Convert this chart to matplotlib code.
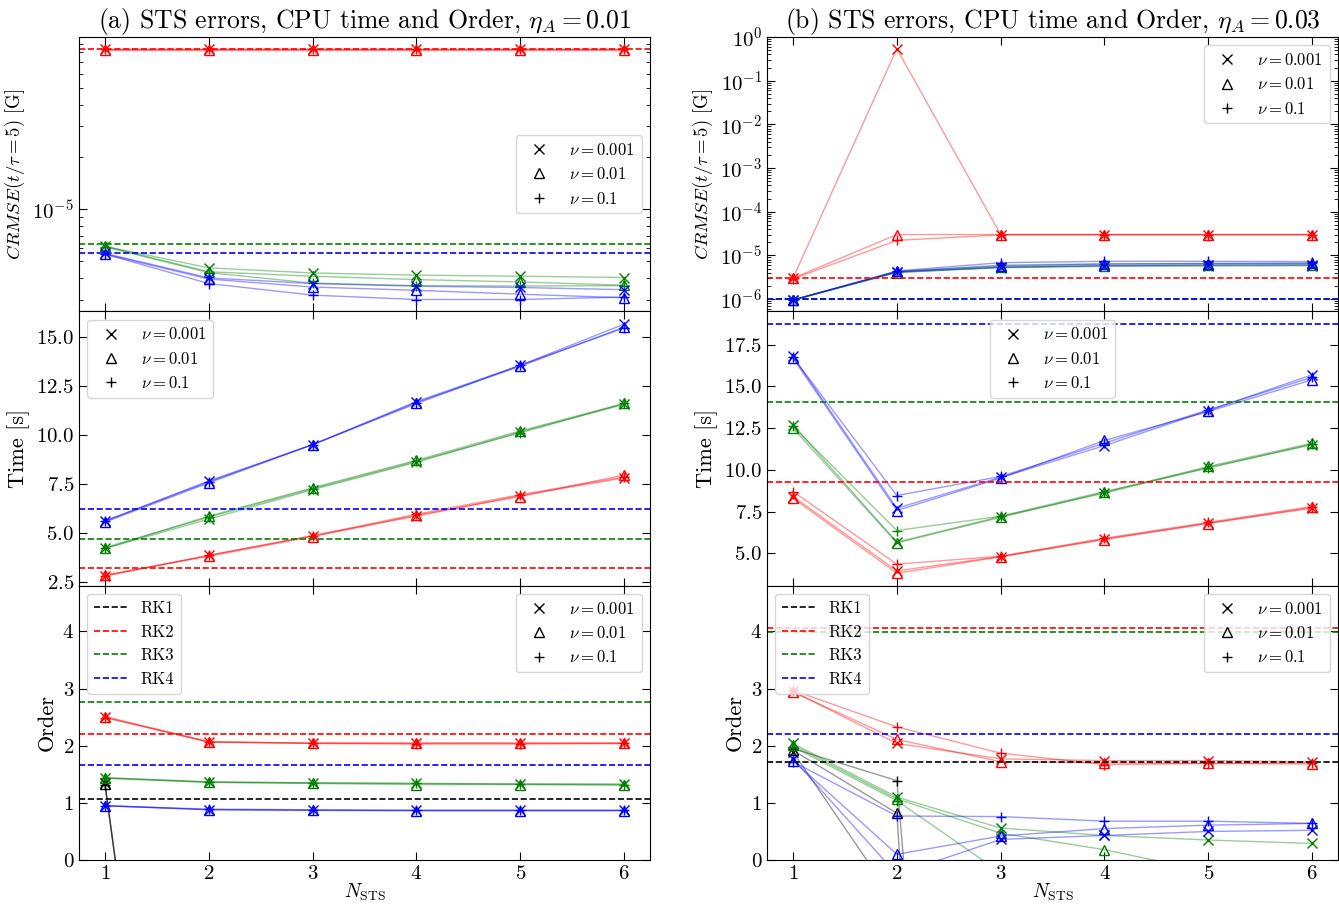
import numpy as np
import matplotlib
matplotlib.use("Agg")
import matplotlib.pyplot as plt
from matplotlib.lines import Line2D
from matplotlib.ticker import LogLocator, NullFormatter

plt.rcParams['font.family'] = 'serif'
plt.rcParams['font.serif'] = ['cmr10', 'DejaVu Serif']
plt.rcParams['mathtext.fontset'] = 'cm'
plt.rcParams['axes.formatter.use_mathtext'] = True

# ---- data ----
n_sts = [1, 2, 3, 4, 5, 6]
nu_labels = [r'$\nu=0.001$', r'$\nu=0.01$', r'$\nu=0.1$']
rk_labels = ['RK1', 'RK2', 'RK3', 'RK4']

# (a) eta_A = 0.01 -- rows are nu = 0.001, 0.01, 0.1
err_a_rk2 = [[8.35e-5, 8.35e-5, 8.35e-5, 8.35e-5, 8.35e-5, 8.35e-5],
             [8.3e-5, 8.3e-5, 8.3e-5, 8.3e-5, 8.3e-5, 8.3e-5],
             [8.35e-5, 8.35e-5, 8.35e-5, 8.35e-5, 8.35e-5, 8.35e-5]]
err_a_rk3 = [[6.1e-6, 4.58e-6, 4.28e-6, 4.16e-6, 4.10e-6, 4.03e-6],
             [6.1e-6, 4.35e-6, 4.10e-6, 3.92e-6, 3.80e-6, 3.64e-6],
             [6.05e-6, 4.30e-6, 3.74e-6, 3.62e-6, 3.60e-6, 3.62e-6]]
err_a_rk4 = [[5.55e-6, 4.01e-6, 3.72e-6, 3.59e-6, 3.53e-6, 3.43e-6],
             [5.50e-6, 3.95e-6, 3.55e-6, 3.40e-6, 3.23e-6, 3.08e-6],
             [5.50e-6, 3.72e-6, 3.19e-6, 3.01e-6, 3.01e-6, 3.11e-6]]
err_a_ref = [None, 8.4e-5, 6.3e-6, 5.6e-6]

time_a_rk2 = [[2.8, 3.85, 4.85, 5.85, 6.9, 7.8],
              [2.85, 3.8, 4.8, 5.9, 6.85, 7.95],
              [2.8, 3.85, 4.85, 5.95, 6.95, 7.85]]
time_a_rk3 = [[4.2, 5.7, 7.2, 8.6, 10.15, 11.55],
              [4.2, 5.85, 7.3, 8.7, 10.2, 11.6],
              [4.25, 5.8, 7.25, 8.65, 10.1, 11.6]]
time_a_rk4 = [[5.6, 7.65, 9.5, 11.7, 13.55, 15.65],
              [5.55, 7.55, 9.5, 11.65, 13.5, 15.5],
              [5.6, 7.6, 9.5, 11.6, 13.55, 15.45]]
time_a_ref = [None, 3.2, 4.7, 6.2]

ord_a_rk1 = [[1.34, -12, -12, -12, -12, -12],
             [1.33, -12, -12, -12, -12, -12],
             [1.32, -12, -12, -12, -12, -12]]
ord_a_rk2 = [[2.51, 2.07, 2.04, 2.04, 2.04, 2.04],
             [2.50, 2.06, 2.05, 2.05, 2.05, 2.05],
             [2.49, 2.07, 2.04, 2.03, 2.03, 2.04]]
ord_a_rk3 = [[1.44, 1.36, 1.35, 1.34, 1.33, 1.33],
             [1.43, 1.36, 1.34, 1.32, 1.32, 1.31],
             [1.44, 1.37, 1.35, 1.34, 1.33, 1.32]]
ord_a_rk4 = [[0.95, 0.88, 0.87, 0.87, 0.87, 0.87],
             [0.95, 0.88, 0.87, 0.86, 0.86, 0.86],
             [0.95, 0.89, 0.88, 0.87, 0.87, 0.87]]
ord_a_ref = [1.07, 2.20, 2.77, 1.66]

# (b) eta_A = 0.03
err_b_rk2 = [[3.0e-6, 0.54, 3.0e-5, 3.0e-5, 3.0e-5, 3.0e-5],
             [3.0e-6, 3.0e-5, 3.0e-5, 3.0e-5, 3.0e-5, 3.0e-5],
             [2.9e-6, 2.2e-5, 2.95e-5, 2.95e-5, 2.95e-5, 2.95e-5]]
err_b_rk3 = [[9.5e-7, 4.1e-6, 5.2e-6, 5.6e-6, 5.7e-6, 5.8e-6],
             [9.5e-7, 4.0e-6, 5.4e-6, 5.8e-6, 5.9e-6, 6.0e-6],
             [9.5e-7, 4.2e-6, 6.0e-6, 6.4e-6, 6.5e-6, 6.6e-6]]
err_b_rk4 = [[9.5e-7, 4.2e-6, 5.3e-6, 5.8e-6, 6.0e-6, 6.1e-6],
             [9.5e-7, 4.3e-6, 5.7e-6, 6.3e-6, 6.5e-6, 6.6e-6],
             [9.5e-7, 4.4e-6, 6.8e-6, 7.3e-6, 7.3e-6, 7.2e-6]]
err_b_ref = [None, 3.1e-6, 1.0e-6, 1.0e-6]

time_b_rk2 = [[8.4, 3.94, 4.8, 5.85, 6.8, 7.7],
              [8.3, 3.8, 4.78, 5.82, 6.78, 7.75],
              [8.7, 4.34, 4.82, 5.9, 6.85, 7.8]]
time_b_rk3 = [[12.7, 5.66, 7.2, 8.6, 10.15, 11.5],
              [12.5, 5.62, 7.15, 8.65, 10.2, 11.6],
              [12.6, 6.36, 7.22, 8.7, 10.1, 11.55]]
time_b_rk4 = [[16.8, 7.7, 9.55, 11.45, 13.55, 15.7],
              [16.7, 7.56, 9.5, 11.76, 13.5, 15.4],
              [16.75, 8.46, 9.6, 11.6, 13.6, 15.55]]
time_b_ref = [None, 9.26, 14.06, 18.76]

ord_b_rk1 = [[1.89, -0.77, -20, -20, -20, -20],
             [1.92, 0.82, -27, -27, -27, -27],
             [1.95, 1.39, -20, -20, -20, -20]]
ord_b_rk2 = [[2.95, 2.04, 1.77, 1.74, 1.74, 1.72],
             [2.94, 2.11, 1.72, 1.70, 1.69, 1.68],
             [2.97, 2.33, 1.87, 1.67, 1.69, 1.70]]
ord_b_rk3 = [[2.04, 1.10, 0.56, 0.43, 0.35, 0.29],
             [2.01, 1.07, 0.47, 0.18, -0.2, -0.6],
             [1.98, 1.04, -0.22, -0.6, -0.9, -1.2]]
ord_b_rk4 = [[1.77, -0.25, 0.36, 0.43, 0.50, 0.52],
             [1.74, 0.10, 0.42, 0.55, 0.61, 0.64],
             [1.72, 0.77, 0.76, 0.68, 0.68, 0.64]]
ord_b_ref = [1.71, 4.06, 3.99, 2.20]

colors = ['black', 'red', 'green', 'blue']
markers = ['x', '^', '+']


def draw(ax, series, refs):
    for c, rk in zip(colors, series):
        if rk is None:
            continue
        for m, y in zip(markers, rk):
            ax.plot(n_sts, y, color=c, alpha=0.4, lw=1)
            ax.plot(n_sts, y, ls='none', marker=m, mec=c, mfc='none', ms=7, mew=1)
    for c, r in zip(colors, refs):
        if r is not None:
            ax.axhline(r, color=c, ls='--', lw=1.2)


def nu_legend(ax, loc):
    h = [Line2D([], [], color='k', marker=m, ls='none', mfc='none', ms=7) for m in markers]
    return ax.legend(h, nu_labels, loc=loc, fontsize=12)


fig, axs = plt.subplots(3, 2, figsize=(13.39, 9.05), sharex=True)
fig.subplots_adjust(left=0.059, right=0.9993, bottom=0.0497, top=0.959,
                    hspace=0, wspace=0.205)

draw(axs[0, 0], [None, err_a_rk2, err_a_rk3, err_a_rk4], err_a_ref)
draw(axs[1, 0], [None, time_a_rk2, time_a_rk3, time_a_rk4], time_a_ref)
draw(axs[2, 0], [ord_a_rk1, ord_a_rk2, ord_a_rk3, ord_a_rk4], ord_a_ref)
draw(axs[0, 1], [None, err_b_rk2, err_b_rk3, err_b_rk4], err_b_ref)
draw(axs[1, 1], [None, time_b_rk2, time_b_rk3, time_b_rk4], time_b_ref)
draw(axs[2, 1], [ord_b_rk1, ord_b_rk2, ord_b_rk3, ord_b_rk4], ord_b_ref)

for ax in axs[0]:
    ax.set_yscale('log')
    ax.set_ylabel(r'$CRMSE(t/\tau=5)$ [G]', fontsize=13.5)
axs[0, 0].set_ylim(2.57e-6, 9.8e-5)
axs[0, 1].set_ylim(5.2e-7, 1.0)
axs[0, 1].yaxis.set_major_locator(LogLocator(base=10, numticks=20))
axs[0, 1].yaxis.set_minor_locator(LogLocator(base=10, subs=np.arange(2, 10), numticks=100))
axs[0, 1].yaxis.set_minor_formatter(NullFormatter())

for ax in axs[1]:
    ax.set_ylabel('Time [s]', fontsize=16)
axs[1, 0].set_ylim(2.3, 16.3)
axs[1, 1].set_ylim(3.05, 19.5)
axs[1, 0].set_yticks([2.5, 5.0, 7.5, 10.0, 12.5, 15.0])
axs[1, 1].set_yticks([5.0, 7.5, 10.0, 12.5, 15.0, 17.5])

for ax in axs[2]:
    ax.set_ylabel('Order', fontsize=16)
    ax.set_ylim(0, 4.8)
    ax.set_yticks([0, 1, 2, 3, 4])
    ax.set_xlabel(r'$N_{\rm STS}$', fontsize=14, labelpad=-1)
    rk_h = [Line2D([], [], color=c, ls='--', lw=1.2) for c in colors]
    leg = ax.legend(rk_h, rk_labels, loc='upper left', fontsize=12)
    ax.add_artist(leg)
    nu_legend(ax, 'upper right')

nu_legend(axs[0, 0], 'center right')
nu_legend(axs[0, 1], 'upper right')
nu_legend(axs[1, 0], 'upper left')
nu_legend(axs[1, 1], 'upper center')

for ax in axs.flat:
    ax.set_xlim(0.75, 6.25)
    ax.set_xticks(n_sts)
    ax.tick_params(which='both', direction='in', top=True, right=True, labelsize=15)
    ax.tick_params(which='major', length=6)
    ax.tick_params(which='minor', length=3)

axs[0, 0].set_title(r'(a) STS errors, CPU time and Order, $\eta_A=0.01$', fontsize=18.5)
axs[0, 1].set_title(r'(b) STS errors, CPU time and Order, $\eta_A=0.03$', fontsize=18.5)

fig.savefig('out.png', dpi=100)
